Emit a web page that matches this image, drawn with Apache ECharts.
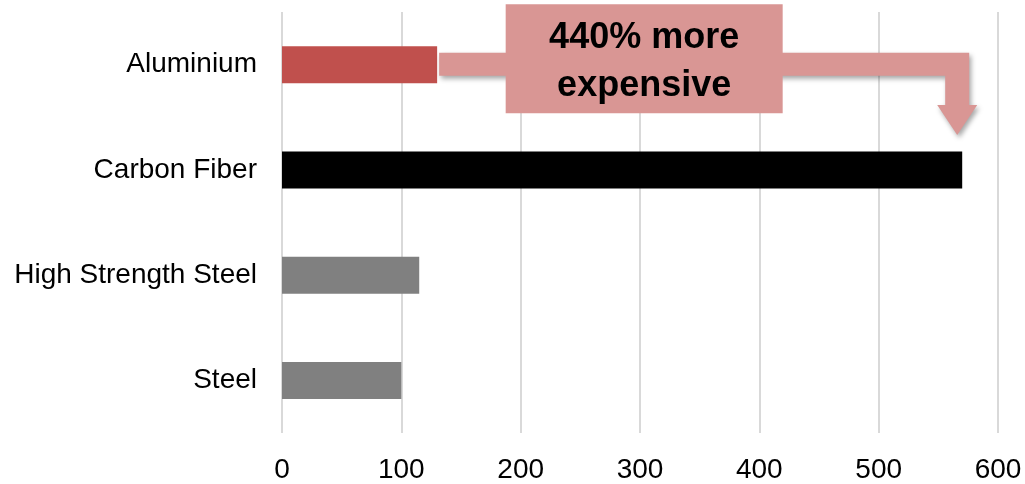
<!DOCTYPE html>
<html>
<head>
<meta charset="utf-8">
<script src="https://cdn.jsdelivr.net/npm/echarts@6/dist/echarts.min.js"></script>
<style>
  html, body { margin: 0; padding: 0; background: #fff; }
  #chart { width: 1025px; height: 484px; }
</style>
</head>
<body>
<div id="chart"></div>
<script>
// Relative material cost
const categories = ['Aluminium', 'Carbon Fiber', 'High Strength Steel', 'Steel'];
const costs = [130, 570, 115, 100];
const barColors = ['#C0504D', '#000000', '#808080', '#808080'];
const tickValues = [0, 100, 200, 300, 400, 500, 600];
const calloutText = '440% more\nexpensive';

const FONT = '"Liberation Sans", Arial, Helvetica, sans-serif';

const chart = echarts.init(document.getElementById('chart'), null, { renderer: 'canvas' });

chart.setOption({
  animation: false,
  backgroundColor: '#ffffff',
  grid: { left: 282, right: 27, top: 12, bottom: 48, containLabel: false },
  xAxis: {
    type: 'value',
    min: tickValues[0],
    max: tickValues[tickValues.length - 1],
    interval: tickValues[1] - tickValues[0],
    axisLine: { show: false },
    axisTick: { show: false },
    splitLine: { show: true, lineStyle: { color: '#D9D9D9', width: 2 } },
    axisLabel: { color: '#000', fontFamily: FONT, fontSize: 28, margin: 23 }
  },
  yAxis: {
    type: 'category',
    data: categories,
    inverse: true,
    axisLine: { show: false },
    axisTick: { show: false },
    axisLabel: { color: '#000', fontFamily: FONT, fontSize: 28, margin: 25 }
  },
  series: [{
    type: 'bar',
    barWidth: 37,
    data: costs.map((v, i) => ({ value: v, itemStyle: { color: barColors[i] } }))
  }]
});

// Bent arrow from the Aluminium bar to the Carbon Fiber bar, with a label box
const px = (v, cat) => chart.convertToPixel({ gridIndex: 0 }, [v, cat]);
const from = px(costs[0], categories[0]);
const to = px(costs[1], categories[1]);
const mid = px(303.5, categories[0]);

const shaftTop = from[1] - 12;
const shaftBot = from[1] + 11;
const tipX = to[0] - 5;
const halfW = 12;
const headHalf = 20;
const headTop = to[1] - 65;
const tipY = to[1] - 35;

const arrowPoints = [
  [from[0] + 2, shaftTop],
  [tipX + halfW, shaftTop],
  [tipX + halfW, headTop],
  [tipX + headHalf, headTop],
  [tipX, tipY],
  [tipX - headHalf, headTop],
  [tipX - halfW, headTop],
  [tipX - halfW, shaftBot],
  [from[0] + 2, shaftBot]
];

const boxW = 277, boxH = 109;
const boxCx = mid[0];
const boxCy = from[1] - 6;

chart.setOption({
  graphic: [
    {
      type: 'polygon',
      shape: { points: arrowPoints },
      style: {
        fill: '#D99694',
        shadowBlur: 5,
        shadowOffsetX: 2,
        shadowOffsetY: 3,
        shadowColor: 'rgba(0,0,0,0.35)'
      },
      z: 10
    },
    {
      type: 'rect',
      shape: { x: boxCx - boxW / 2, y: boxCy - boxH / 2, width: boxW, height: boxH },
      style: { fill: '#D99694' },
      z: 11
    },
    {
      type: 'text',
      x: boxCx,
      y: boxCy + 3,
      style: {
        text: calloutText,
        fill: '#000',
        font: 'bold 36px ' + FONT,
        lineHeight: 48,
        align: 'center',
        verticalAlign: 'middle'
      },
      z: 12
    }
  ]
});
</script>
</body>
</html>
